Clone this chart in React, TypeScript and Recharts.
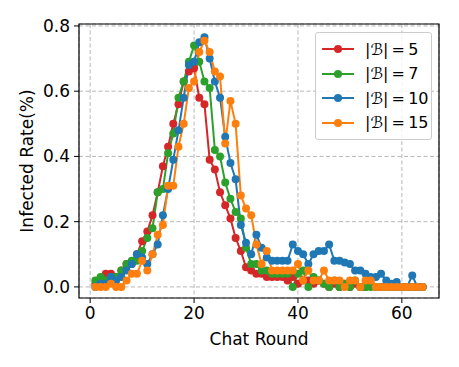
import { LineChart, Line, XAxis, YAxis, CartesianGrid, ReferenceArea } from 'recharts'

const rounds = [
  1, 2, 3, 4, 5, 6, 7, 8, 9, 10, 11, 12, 13, 14, 15, 16, 17, 18, 19, 20, 21, 22,
  23, 24, 25, 26, 27, 28, 29, 30, 31, 32, 33, 34, 35, 36, 37, 38, 39, 40, 41, 42,
  43, 44, 45, 46, 47, 48, 49, 50, 51, 52, 53, 54, 55, 56, 57, 58, 59, 60, 61, 62, 63, 64,
]

// |B| = 5
const rate5 = [
  0.01, 0.02, 0.04, 0.04, 0.03, 0.05, 0.07, 0.07, 0.10, 0.14,
  0.17, 0.22, 0.29, 0.37, 0.43, 0.50, 0.56, 0.63, 0.66, 0.67,
  0.58, 0.56, 0.39, 0.36, 0.29, 0.25, 0.21, 0.15, 0.11, 0.06,
  0.05, 0.04, 0.04, 0.03, 0.03, 0.03, 0.03, 0.02, 0.03, 0.01,
  0.02, 0.02, 0.01, 0.02, 0.01, 0.00, 0.01, 0.00, 0.01, 0.00,
  0.01, 0.00, 0.00, 0.01, 0.00, 0.00, 0.00, 0.00, 0.00, 0.00,
  0.00, 0.00, 0.00, 0.00,
]

// |B| = 7
const rate7 = [
  0.02, 0.03, 0.02, 0.03, 0.03, 0.05, 0.07, 0.08, 0.08, 0.11,
  0.15, 0.18, 0.29, 0.30, 0.41, 0.47, 0.58, 0.63, 0.69, 0.74,
  0.69, 0.63, 0.61, 0.42, 0.40, 0.32, 0.27, 0.23, 0.21, 0.12,
  0.07, 0.07, 0.05, 0.05, 0.04, 0.04, 0.04, 0.04, 0.00, 0.04,
  0.05, 0.00, 0.03, 0.02, 0.01, 0.00, 0.02, 0.00, 0.01, 0.00,
  0.02, 0.00, 0.00, 0.00, 0.00, 0.00, 0.00, 0.00, 0.00, 0.00,
  0.00, 0.00, 0.00, 0.00,
]

// |B| = 10
const rate10 = [
  0.00, 0.01, 0.01, 0.03, 0.02, 0.03, 0.05, 0.07, 0.10, 0.09,
  0.07, 0.10, 0.13, 0.22, 0.30, 0.39, 0.48, 0.58, 0.68, 0.69,
  0.75, 0.765, 0.70, 0.63, 0.58, 0.46, 0.38, 0.33, 0.19, 0.135,
  0.10, 0.16, 0.12, 0.09, 0.08, 0.08, 0.08, 0.08, 0.13, 0.11,
  0.10, 0.07, 0.10, 0.11, 0.11, 0.13, 0.08, 0.08, 0.075, 0.07,
  0.05, 0.05, 0.04, 0.03, 0.03, 0.04, 0.02, 0.01, 0.015, 0.00,
  0.00, 0.035, 0.00, 0.00,
]

// |B| = 15
const rate15 = [
  0.00, 0.00, 0.00, 0.01, 0.00, 0.00, 0.02, 0.04, 0.04, 0.08,
  0.05, 0.10, 0.16, 0.19, 0.31, 0.31, 0.43, 0.50, 0.61, 0.63,
  0.72, 0.755, 0.72, 0.66, 0.645, 0.44, 0.57, 0.50, 0.28, 0.24,
  0.22, 0.13, 0.07, 0.11, 0.05, 0.05, 0.05, 0.05, 0.05, 0.07,
  0.02, 0.05, 0.02, 0.02, 0.05, 0.02, 0.02, 0.02, 0.00, 0.02,
  0.02, 0.00, 0.02, 0.02, 0.00, 0.00, 0.00, 0.00, 0.00, 0.00,
  0.00, 0.00, 0.00, 0.00,
]

const xTicks = [0, 20, 40, 60]
const yTicks = [0, 0.2, 0.4, 0.6, 0.8]

const X_MIN = -2.15
const X_MAX = 67.15
const Y_MIN = -0.034
const Y_MAX = 0.806

const series = [
  { key: 'b5', label: '|ℬ|\u2009=\u20095', color: '#d62728', values: rate5 },
  { key: 'b7', label: '|ℬ|\u2009=\u20097', color: '#2ca02c', values: rate7 },
  { key: 'b10', label: '|ℬ|\u2009=\u200910', color: '#1f77b4', values: rate10 },
  { key: 'b15', label: '|ℬ|\u2009=\u200915', color: '#ff7f0e', values: rate15 },
]

const chartData = rounds.map((r, i) => {
  const row: Record<string, number> = { round: r }
  series.forEach((s) => { row[s.key] = s.values[i] })
  return row
})

const FONT = '"DejaVu Sans", sans-serif'

function YLabel(props: any) {
  const vb = props.viewBox || {}
  const cx = 28
  const cy = (vb.y ?? 24) + (vb.height ?? 274) / 2
  return (
    <text x={cx} y={cy} transform={`rotate(-90, ${cx}, ${cy})`} textAnchor="middle" dominantBaseline="middle"
      fontFamily={FONT} fontSize={17} fill="#000">
      Infected Rate(%)
    </text>
  )
}

function XLabel(props: any) {
  const vb = props.viewBox || {}
  const cx = (vb.x ?? 79) + (vb.width ?? 360) / 2
  return (
    <text x={cx} y={345} textAnchor="middle" fontFamily={FONT} fontSize={17} fill="#000">
      Chat Round
    </text>
  )
}

// legend drawn as an overlay so it doesn't eat into the plot height
function LegendBox() {
  return (
    <div style={{
      position: 'absolute', left: 315, top: 32, width: 117, boxSizing: 'border-box',
      background: 'rgba(255,255,255,0.8)', border: '1px solid #cccccc', borderRadius: 3,
      padding: '4px 0 4px 6px', fontFamily: FONT, fontSize: 16, color: '#000',
    }}>
      {series.map((s) => (
        <div key={s.key} style={{ display: 'flex', alignItems: 'center', height: 24.5 }}>
          <svg width={32} height={12} style={{ marginRight: 11 }}>
            <line x1={0} y1={6} x2={32} y2={6} stroke={s.color} strokeWidth={2} />
            <circle cx={16} cy={6} r={4} fill={s.color} />
          </svg>
          <span>{s.label}</span>
        </div>
      ))}
    </div>
  )
}

export default function App() {
  return (
    <div style={{ position: 'absolute', left: 0, top: 0, width: 459, height: 367, background: '#fff' }}>
      <LineChart width={459} height={367} data={chartData} margin={{ top: 24, right: 20, left: 0, bottom: 0 }}>
        <CartesianGrid stroke="#b0b0b0" strokeDasharray="4 2.5" strokeWidth={0.9} />
        <XAxis
          dataKey="round" type="number" domain={[X_MIN, X_MAX]} ticks={xTicks} allowDataOverflow
          height={69} tickSize={5} tickMargin={4} axisLine={false}
          tick={{ fill: '#000', fontSize: 17, fontFamily: FONT }} stroke="#000"
          label={<XLabel />}
        />
        <YAxis
          type="number" domain={[Y_MIN, Y_MAX]} ticks={yTicks} allowDataOverflow
          width={79} tickSize={5} tickMargin={4} axisLine={false}
          tickFormatter={(v: number) => v.toFixed(1)}
          tick={{ fill: '#000', fontSize: 17, fontFamily: FONT }} stroke="#000"
          label={<YLabel />}
        />
        {series.map((s) => (
          <Line
            key={s.key} dataKey={s.key} name={s.label} stroke={s.color} strokeWidth={2}
            dot={{ r: 4, fill: s.color, stroke: s.color, strokeWidth: 0 }}
            activeDot={false} isAnimationActive={false}
          />
        ))}
        <ReferenceArea x1={X_MIN} x2={X_MAX} y1={Y_MIN} y2={Y_MAX} fill="none" stroke="#000" strokeWidth={1.2}
          ifOverflow="visible" />
      </LineChart>
      <LegendBox />
    </div>
  )
}
